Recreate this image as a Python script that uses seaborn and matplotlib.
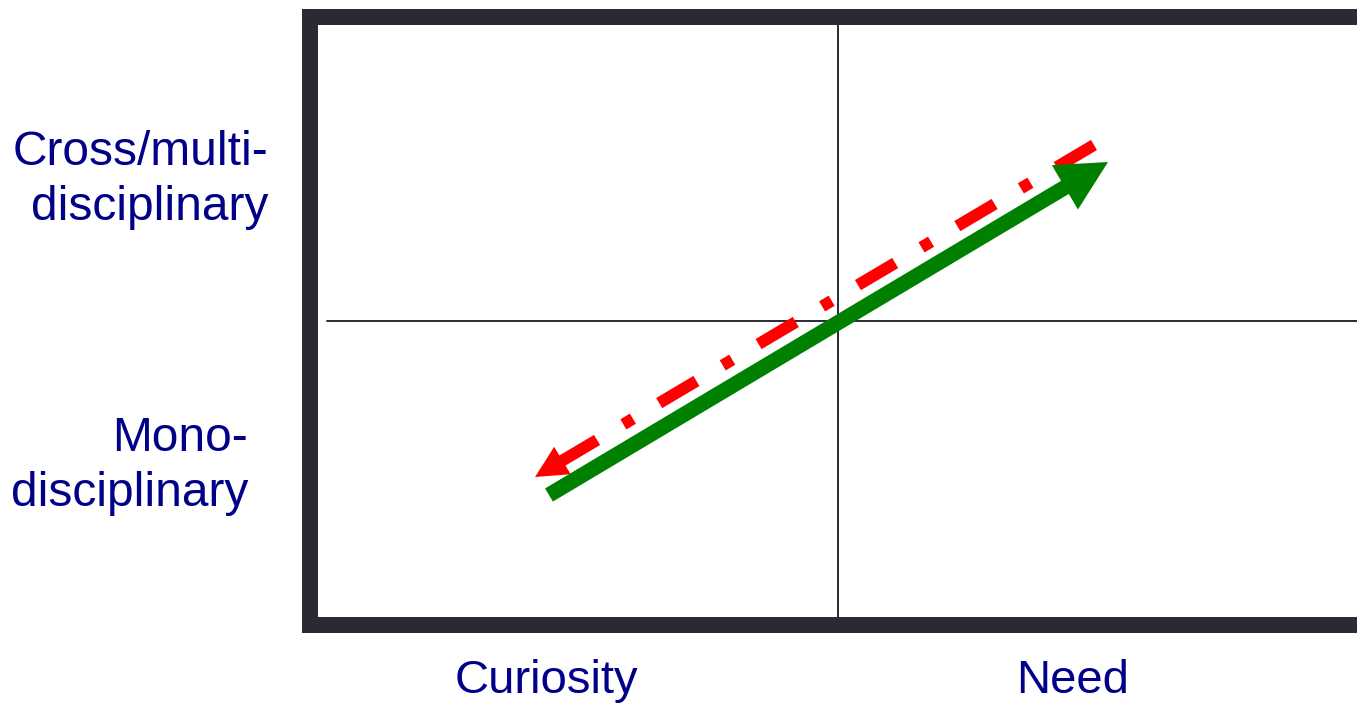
import matplotlib
matplotlib.use("Agg")
import matplotlib.pyplot as plt
import seaborn as sns

# Quadrant diagram: discipline breadth vs. motivation
sns.set_style("white")
plt.rcParams["font.family"] = ["Liberation Sans", "DejaVu Sans"]

# Axis categories (label text, position in axes units)
x_labels = ["Curiosity", "Need"]
x_label_pos = [0.224, 0.7225]
y_labels = ["Cross/multi-\ndisciplinary", "Mono-\ndisciplinary"]
y_label_pos = [0.666, 0.1957]
y_label_right = [-0.0398, -0.0587]

# Crosshair dividing the quadrants
divider_x = 0.5
divider_y = 0.5

# Green arrow: tail -> head base -> tip
green_x = [0.2263, 0.7187]
green_y = [0.2138, 0.7237]
green_tip = (0.7557, 0.7615)

# Red dash-dot arrow: tail -> head base -> tip
red_x = [0.7424, 0.2367]
red_y = [0.7895, 0.2681]
red_tip = (0.2131, 0.2434)

frame_col = "#2a2a35"
text_col = "#000088"

fig = plt.figure(figsize=(13.57, 7.05), dpi=100)
ax = fig.add_axes([310 / 1357, 80 / 705, 1056 / 1357, 608 / 705])
ax.set_xlim(0, 1)
ax.set_ylim(0, 1)
ax.set_xticks([])
ax.set_yticks([])
for s in ax.spines.values():
    s.set_visible(True)
    s.set_linewidth(11.5)
    s.set_color(frame_col)
    s.set_capstyle("projecting")
    s.set_zorder(5)

# quadrant lines
ax.axvline(divider_x, color=frame_col, lw=1.4, zorder=1)
ax.plot([0.016, 1], [divider_y, divider_y], color=frame_col, lw=1.4, zorder=1)

# red dash-dot arrow (shaft + head)
sns.lineplot(x=red_x, y=red_y, ax=ax, color="#ff0000", lw=8.5, sort=False,
             estimator=None, linestyle=(0, (3.67, 2.59, 0.94, 2.59)),
             dash_capstyle="butt", zorder=2)
ax.annotate("", xy=red_tip, xytext=(red_x[1], red_y[1]),
            arrowprops=dict(arrowstyle="-|>,head_length=23,head_width=11.5",
                            color="#ff0000", lw=0, shrinkA=0, shrinkB=0,
                            mutation_scale=1), zorder=2)

# green arrow (shaft + head)
sns.lineplot(x=green_x, y=green_y, ax=ax, color="#008000", lw=11, sort=False,
             estimator=None, solid_capstyle="butt", zorder=3)
ax.annotate("", xy=green_tip, xytext=(green_x[1], green_y[1]),
            arrowprops=dict(arrowstyle="-|>,head_length=36,head_width=18.5",
                            color="#008000", lw=0, shrinkA=0, shrinkB=0,
                            mutation_scale=1), zorder=3)

# labels
for lab, xp in zip(x_labels, x_label_pos):
    ax.text(xp, -0.1118, lab, ha="center", va="baseline", fontsize=34,
            color=text_col, clip_on=False)
for lab, yp, xr in zip(y_labels, y_label_pos, y_label_right):
    ax.text(xr, yp, lab, ha="right", va="baseline", multialignment="right",
            fontsize=34.5, color=text_col, linespacing=1.3, clip_on=False)

fig.savefig("out.png", dpi=100)
